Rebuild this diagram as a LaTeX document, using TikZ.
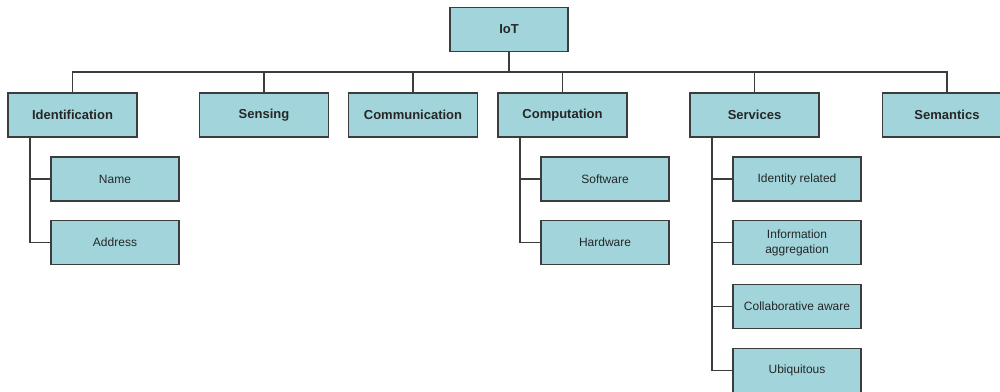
\documentclass[tikz,border=0pt]{standalone}
\usepackage{fontspec}
\setmainfont{Liberation Sans}
\definecolor{boxfill}{HTML}{A1D5DB}
\definecolor{boxline}{HTML}{3C3C3C}
\begin{document}
\begin{tikzpicture}[x=1pt,y=-1pt,
  top/.style={draw=boxline,fill=boxfill,line width=1.3pt,minimum width=129pt,minimum height=44pt,inner sep=0pt,font=\fontsize{13}{15}\selectfont\bfseries,text=black!85},
  sub/.style={draw=boxline,fill=boxfill,line width=1.3pt,minimum width=128pt,minimum height=44pt,inner sep=0pt,align=center,font=\fontsize{12}{15}\selectfont,text=black!85},
  conn/.style={draw=boxline,line width=1.3pt}]
\useasboundingbox (0,0) rectangle (1000,391);
\clip (0,0) rectangle (1000,391);
\fill[white] (0,0) rectangle (1000,391);
% nodes
\node[top,minimum width=118pt] (iot) at (509,29.5) {IoT};
\node[top] (ident) at (72.5,115) {Identification};
\node[top] (sens) at (264,115) {Sensing};
\node[top] (comm) at (413,115) {Communication};
\node[top] (comp) at (562.5,115) {Computation};
\node[top] (serv) at (754.5,115) {Services};
\node[top] (sem) at (947,115) {Semantics};
\node[sub] (name) at (115,179) {Name};
\node[sub] (addr) at (115,242.5) {Address};
\node[sub] (soft) at (605,179) {Software};
\node[sub] (hard) at (605,242.5) {Hardware};
\node[sub] (idr) at (797,179) {Identity related};
\node[sub] (info) at (797,242.5) {Information\\aggregation};
\node[sub] (coll) at (797,306.5) {Collaborative aware};
\node[sub] (ubiq) at (797,370.5) {Ubiquitous};
% connectors
\coordinate (bus) at (509,72);
\draw[conn] (iot.south) -- (bus);
\draw[conn] (ident.north) |- (bus) -| (sem.north);
\foreach \n in {sens,comm,comp,serv} \draw[conn] (\n.north) -- (\n.north |- bus);
\coordinate (ia) at (30,0);
\draw[conn] (ident.south -| ia) |- (name.west);
\draw[conn] (ident.south -| ia) |- (addr.west);
\coordinate (ca) at (520,0);
\draw[conn] (comp.south -| ca) |- (soft.west);
\draw[conn] (comp.south -| ca) |- (hard.west);
\coordinate (sa) at (712,0);
\foreach \n in {idr,info,coll,ubiq} \draw[conn] (serv.south -| sa) |- (\n.west);
\end{tikzpicture}
\end{document}
